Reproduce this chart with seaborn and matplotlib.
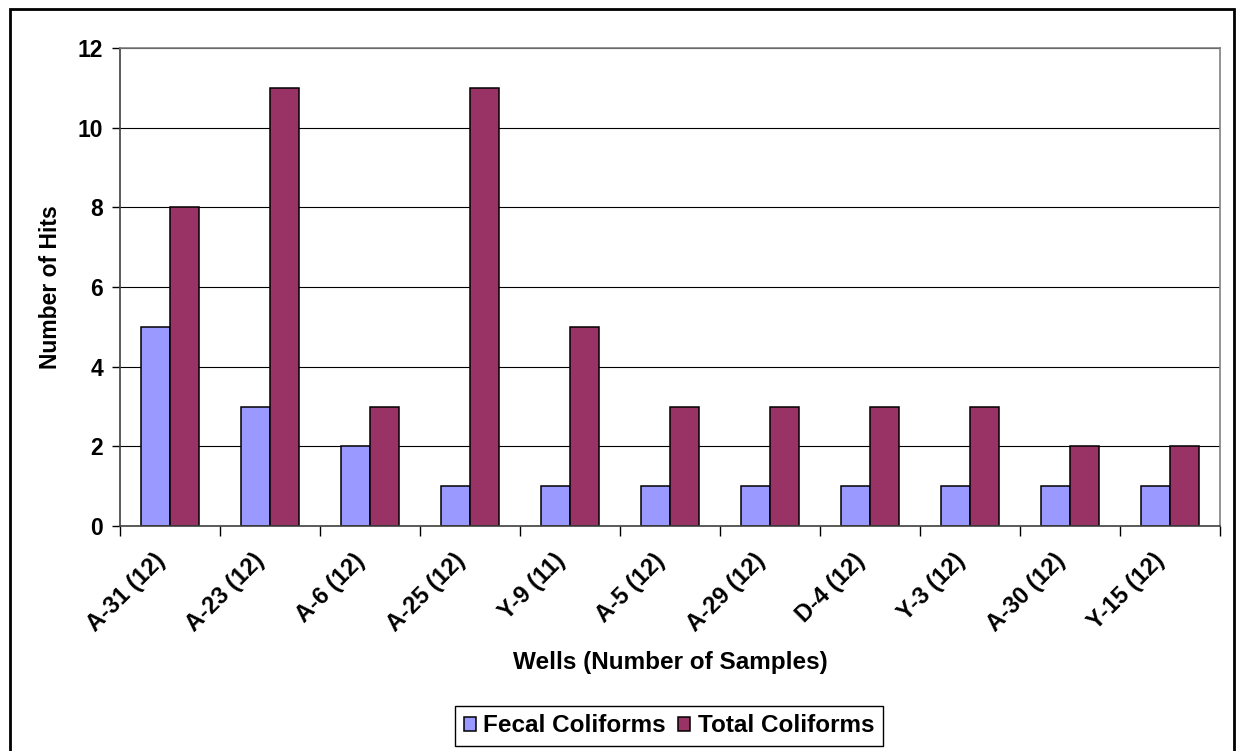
import matplotlib
matplotlib.use("Agg")
import matplotlib.pyplot as plt
import matplotlib.transforms as mtransforms
from matplotlib.patches import Rectangle
from matplotlib.ticker import MultipleLocator, FixedLocator
import seaborn as sns
import pandas as pd

wells = ["A-31 (12)", "A-23 (12)", "A-6 (12)", "A-25 (12)", "Y-9 (11)", "A-5 (12)",
         "A-29 (12)", "D-4 (12)", "Y-3 (12)", "A-30 (12)", "Y-15 (12)"]
fecal = [5, 3, 2, 1, 1, 1, 1, 1, 1, 1, 1]
total = [8, 11, 3, 11, 5, 3, 3, 3, 3, 2, 2]
series = ["Fecal Coliforms", "Total Coliforms"]
colors = ["#9999FF", "#993366"]

df = pd.DataFrame({
    "Well": wells * 2,
    "Hits": fecal + total,
    "Type": [series[0]] * len(wells) + [series[1]] * len(wells),
})

sns.set_style("white", rc={"text.color": "black", "axes.labelcolor": "black",
                           "xtick.color": "black", "ytick.color": "black"})
plt.rcParams["font.family"] = ["Liberation Sans", "DejaVu Sans"]
plt.rcParams["font.weight"] = "bold"

fig = plt.figure(figsize=(12.38, 7.51), dpi=100)
ax = fig.add_axes([120 / 1238, 1 - 526 / 751, 1100 / 1238, 478 / 751])

sns.barplot(data=df, x="Well", y="Hits", hue="Type", order=wells, hue_order=series,
            palette=colors, width=0.58, gap=0, edgecolor="black", linewidth=1.1,
            saturation=1, ax=ax, legend=True)

ax.set_ylim(0, 12)
ax.set_xlim(-0.5, len(wells) - 0.5)
ax.yaxis.set_major_locator(MultipleLocator(2))
ax.set_axisbelow(True)
ax.yaxis.grid(True, color="black", linewidth=0.8)
ax.xaxis.grid(False)

# category boundary tick marks
ax.xaxis.set_minor_locator(FixedLocator([i - 0.5 for i in range(len(wells) + 1)]))
ax.tick_params(axis="x", which="major", length=0, pad=16.5)
ax.tick_params(axis="x", which="minor", length=7, width=1, color="black", direction="out", bottom=True)
ax.tick_params(axis="y", which="major", length=6, width=1, color="black", direction="out", left=True,
               labelsize=16.5, pad=6)

shift = mtransforms.ScaledTranslation(-17 / 100, 0, fig.dpi_scale_trans)
for lbl in ax.get_xticklabels():
    lbl.set_rotation(45)
    lbl.set_ha("right")
    lbl.set_va("top")
    lbl.set_rotation_mode("anchor")
    lbl.set_fontsize(17)
    lbl.set_fontweight("bold")
    lbl.set_transform(lbl.get_transform() + shift)
for lbl in ax.get_yticklabels():
    lbl.set_fontweight("bold")

for side in ["top", "right"]:
    ax.spines[side].set_color("#808080")
    ax.spines[side].set_linewidth(1.2)
for side in ["left", "bottom"]:
    ax.spines[side].set_color("#404040")
    ax.spines[side].set_linewidth(1.2)

ax.set_xlabel("Wells (Number of Samples)", fontsize=17.5, fontweight="bold")
ax.set_ylabel("Number of Hits", fontsize=16.5, fontweight="bold")
ax.xaxis.set_label_coords(0.5, (526 - 662) / 478)
ax.xaxis.label.set_va("center")
ax.yaxis.set_label_coords((50 - 120) / 1100, 0.5)
ax.yaxis.label.set_va("center")

handles, labels = ax.get_legend_handles_labels()
ax.legend_.remove()
fig.legend(handles, labels, loc="center", bbox_to_anchor=(669 / 1238, 1 - 726 / 751), ncol=2,
           frameon=True, fancybox=False, edgecolor="black", framealpha=1,
           prop={"size": 17.5, "weight": "bold"}, handlelength=0.5, handleheight=0.5,
           handletextpad=0.3, columnspacing=0.5, borderpad=0.35, borderaxespad=0)

# outer chart frame
fig.patches.append(Rectangle((10 / 1238, -0.05), 1224 / 1238, (751 - 9) / 751 + 0.05,
                             transform=fig.transFigure, fill=False, edgecolor="black",
                             linewidth=2, zorder=10))

fig.savefig("out.png", dpi=100)
